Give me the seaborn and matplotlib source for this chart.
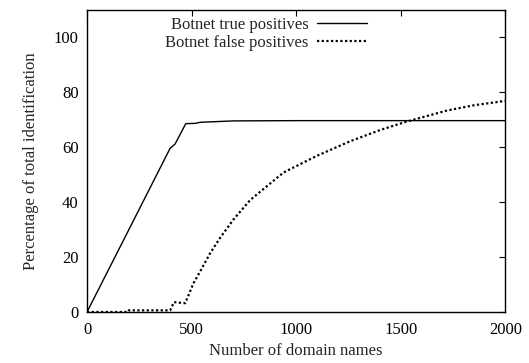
import matplotlib
matplotlib.use("Agg")
import matplotlib.pyplot as plt
import seaborn as sns
import pandas as pd

# Data
tp_x = [0, 200, 397, 421, 472, 517, 541, 700, 1000, 1500, 2000]
tp_y = [0, 30.0, 59.6, 61.2, 68.6, 68.7, 69.1, 69.6, 69.7, 69.7, 69.7]

fp_x = [0, 196, 200, 397, 416, 440, 469, 509, 541, 589, 636, 700, 780, 939,
        1099, 1258, 1402, 1521, 1721, 1850, 2000]
fp_y = [0, 0, 0.6, 0.6, 3.6, 3.4, 3.2, 10.5, 14.8, 21.5, 27.0, 33.7, 40.8, 50.8,
        56.9, 62.2, 66.3, 69.2, 73.4, 75.3, 76.9]

label_tp = "Botnet true positives"
label_fp = "Botnet false positives"
x_ticks = [0, 500, 1000, 1500, 2000]
y_ticks = [0, 20, 40, 60, 80, 100]

sns.set_style("white")
plt.rcParams['font.family'] = ['Liberation Serif', 'DejaVu Serif']
plt.rcParams['mathtext.fontset'] = 'stix'

fig = plt.figure(figsize=(5.29, 3.63), dpi=100)
ax = fig.add_axes([0.1645, 0.1405, 0.791, 0.832])

df_tp = pd.DataFrame({"x": tp_x, "y": tp_y})
df_fp = pd.DataFrame({"x": fp_x, "y": fp_y})

sns.lineplot(data=df_tp, x="x", y="y", ax=ax, color="black", linewidth=1.0,
             label=label_tp, estimator=None, sort=False)
sns.lineplot(data=df_fp, x="x", y="y", ax=ax, color="black", linewidth=1.6,
             linestyle=(0, (1, 1.1)), label=label_fp, estimator=None, sort=False)

ax.set_xlim(0, 2000)
ax.set_ylim(0, 110)
ax.set_xticks(x_ticks)
ax.set_yticks(y_ticks)
ax.tick_params(direction="in", length=4, width=0.8, top=True, right=True,
               labelsize=12, colors="black")
ax.tick_params(axis="x", pad=7)
ax.tick_params(axis="y", pad=6)
for s in ax.spines.values():
    s.set_visible(True)
    s.set_color("black")
    s.set_linewidth(1.0)

ax.set_xlabel("Number of domain names", fontsize=12, labelpad=4)
ax.set_ylabel("Percentage of total identification", fontsize=12, labelpad=11)

leg = ax.legend(loc="upper right", bbox_to_anchor=(0.669, 0.978), frameon=False,
                markerfirst=False, fontsize=12, handlelength=3.0,
                handletextpad=0.5, borderaxespad=0, borderpad=0,
                labelspacing=0.15)

fig.savefig("out.png", dpi=100)
